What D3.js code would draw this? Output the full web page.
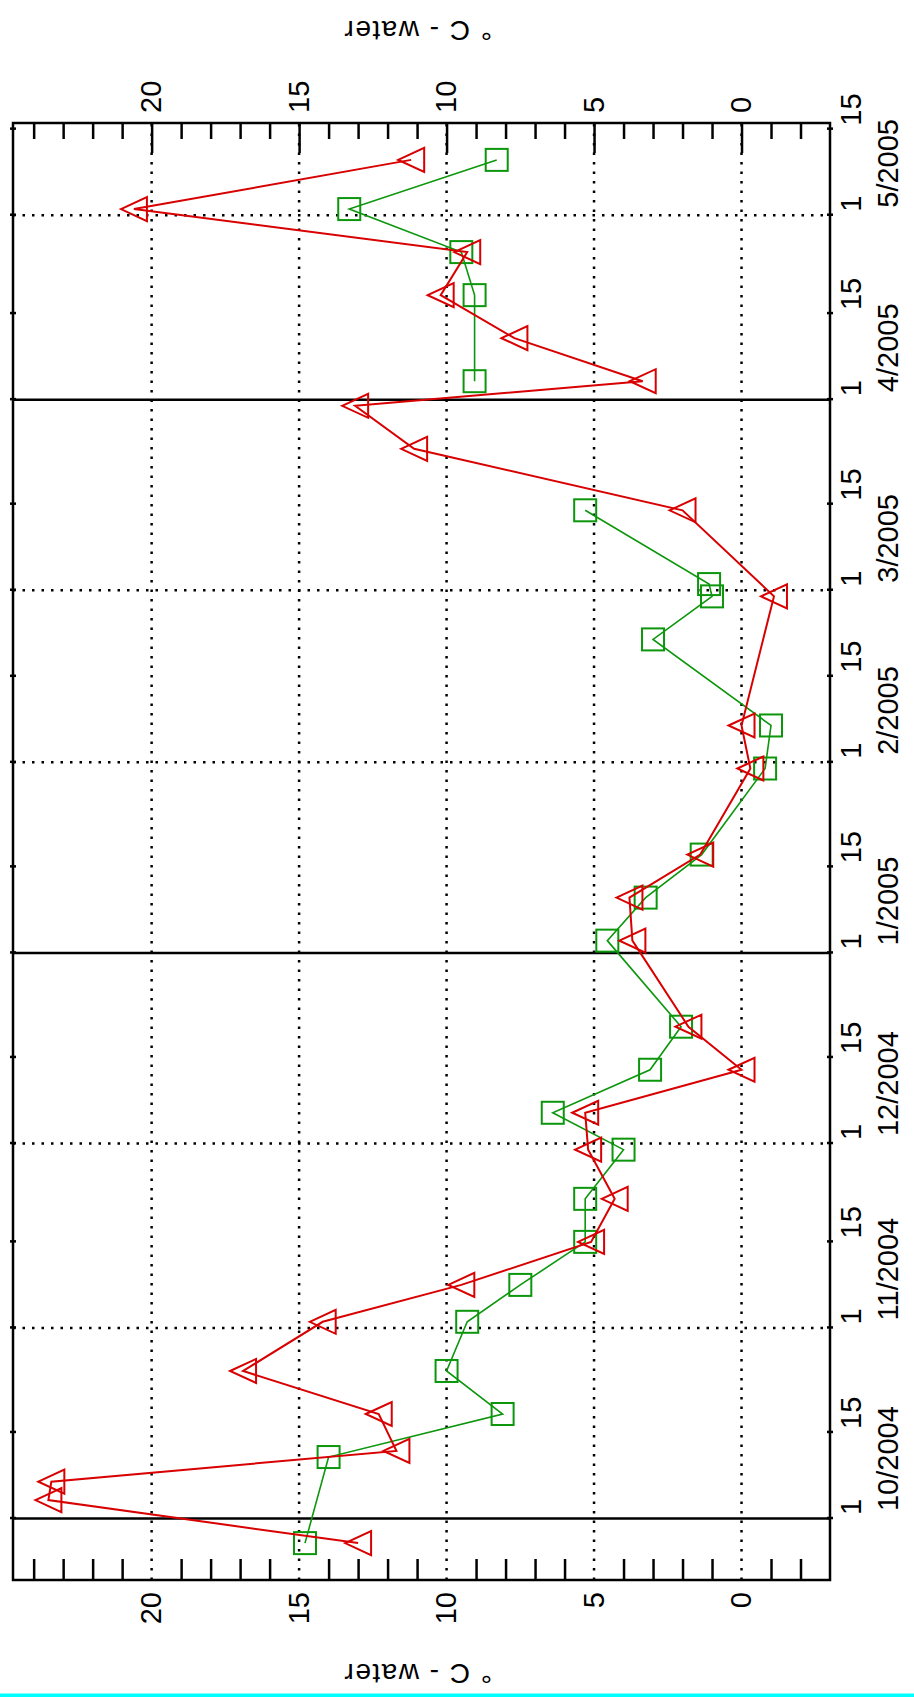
<!DOCTYPE html>
<html>
<head>
<meta charset="utf-8">
<script src="https://cdn.jsdelivr.net/npm/d3@7"></script>
<style>
body { margin: 0; background: #fff; }
svg { display: block; }
</style>
</head>
<body>
<div id="chart"></div>
<script>
// red triangles
var triangleDates = ["2004-09-27", "2004-10-04", "2004-10-07", "2004-10-12", "2004-10-18", "2004-10-25",
    "2004-11-02", "2004-11-08", "2004-11-15", "2004-11-22", "2004-11-30", "2004-12-06", "2004-12-13",
    "2004-12-20", "2005-01-03", "2005-01-10", "2005-01-17", "2005-01-31", "2005-02-07", "2005-02-28",
    "2005-03-14", "2005-03-24", "2005-03-31", "2005-04-04", "2005-04-11", "2005-04-18", "2005-04-25",
    "2005-05-02", "2005-05-10"];
var triangleTemps = [13.0, 23.5, 23.4, 11.7, 12.3, 16.9, 14.2, 9.5, 5.1, 4.3, 5.2, 5.3, 0.0, 1.8, 3.7,
    3.8, 1.4, -0.3, 0.0, -1.1, 2.0, 11.1, 13.1, 3.35, 7.7, 10.2, 9.3, 20.6, 11.2];

// green squares (null = no reading, the line breaks there)
var squareDates = ["2004-09-27", "2004-10-11", "2004-10-18", "2004-10-25", "2004-11-02", "2004-11-08",
    "2004-11-15", "2004-11-22", "2004-11-30", "2004-12-06", "2004-12-13", "2004-12-20", "2005-01-03",
    "2005-01-10", "2005-01-17", "2005-01-31", "2005-02-07", "2005-02-21", "2005-02-28", "2005-03-02",
    "2005-03-14", "2005-03-24", "2005-04-04", "2005-04-18", "2005-04-25", "2005-05-02", "2005-05-10"];
var squareTemps = [14.8, 14.0, 8.1, 10.0, 9.3, 7.5, 5.3, 5.3, 4.0, 6.4, 3.1, 2.05, 4.55, 3.25, 1.35,
    -0.8, -1.0, 3.0, 1.0, 1.1, 5.3, null, 9.05, 9.05, 9.5, 13.3, 8.3];

var tempTicks = [0, 5, 10, 15, 20];
var monthLabels = ["10/2004", "11/2004", "12/2004", "1/2005", "2/2005", "3/2005", "4/2005", "5/2005"];
var solidMonths = ["10/2004", "1/2005", "4/2005"];
var dayTicks = [1, 15];
var axisTitle = "\u00b0 C - water";

var W = 914, H = 1697;
var font = "'Liberation Sans', Arial, sans-serif";
var red = "#d80000", green = "#0c960c";

var parse = d3.utcParse("%Y-%m-%d"),
    parseMonth = d3.utcParse("%m/%Y");

var svg = d3.select("#chart").append("svg")
    .attr("width", W)
    .attr("height", H);

svg.append("rect").attr("width", W).attr("height", H).attr("fill", "#fff");

// the plot is a normal time chart turned a quarter turn counter-clockwise
var g = svg.append("g")
    .attr("transform", "translate(0," + H + ") rotate(-90)");

var x = d3.scaleUtc()
    .domain([parse("2004-09-21"), parse("2005-05-16")])
    .range([117, 1574]);
var y = d3.scaleLinear()
    .domain([-3, 24.7])
    .range([830, 13]);

var x0 = x.range()[0], x1 = x.range()[1],
    yTop = y.range()[1], yBot = y.range()[0];

var monthDates = monthLabels.map(function(m) { return parseMonth(m); });
var dayDates = [];
monthDates.forEach(function(m) {
    dayTicks.forEach(function(d) { dayDates.push(d3.utcDay.offset(m, d - 1)); });
});

// grid
g.append("g")
    .selectAll("line")
    .data(tempTicks)
    .enter().append("line")
    .attr("x1", x0).attr("x2", x1)
    .attr("y1", function(d) { return y(d); })
    .attr("y2", function(d) { return y(d); })
    .attr("stroke", "#000")
    .attr("stroke-width", 2.5)
    .attr("stroke-dasharray", "2.5 7");

g.append("g")
    .selectAll("line")
    .data(monthLabels)
    .enter().append("line")
    .attr("x1", function(d) { return x(parseMonth(d)); })
    .attr("x2", function(d) { return x(parseMonth(d)); })
    .attr("y1", yTop).attr("y2", yBot)
    .attr("stroke", "#000")
    .attr("stroke-width", 2.5)
    .attr("stroke-dasharray", function(d) { return solidMonths.indexOf(d) >= 0 ? null : "2.5 7"; });

// frame
g.append("rect")
    .attr("x", x0).attr("y", yTop)
    .attr("width", x1 - x0).attr("height", yBot - yTop)
    .attr("fill", "none")
    .attr("stroke", "#000")
    .attr("stroke-width", 2.5);

function styleAxis(sel) {
    sel.attr("font-size", 29).attr("font-family", font);
    sel.select(".domain").remove();
    sel.selectAll("line").attr("stroke-width", 2.5);
}

var minor = d3.range(-2, 25).filter(function(v) { return v % 5 !== 0; });

// small ticks (left side of the turned chart = screen bottom)
g.append("g")
    .attr("transform", "translate(" + x0 + ",0)")
    .call(d3.axisLeft(y).tickValues(minor).tickSize(-21).tickFormat(""))
    .call(styleAxis);

// screen top: short and long ticks
g.append("g")
    .attr("transform", "translate(" + x1 + ",0)")
    .call(d3.axisRight(y).tickValues(minor).tickSize(-16).tickFormat(""))
    .call(styleAxis);
g.append("g")
    .attr("transform", "translate(" + x1 + ",0)")
    .call(d3.axisRight(y).tickValues(tempTicks).tickSize(-30).tickFormat(""))
    .call(styleAxis);

// temperature labels
g.append("g")
    .attr("transform", "translate(" + x0 + ",0)")
    .call(d3.axisLeft(y).tickValues(tempTicks).tickSize(0).tickPadding(12))
    .call(styleAxis);
g.append("g")
    .attr("transform", "translate(" + x1 + ",0)")
    .call(d3.axisRight(y).tickValues(tempTicks).tickSize(0).tickPadding(10))
    .call(styleAxis);

// date ticks crossing both frame edges
[yBot - 3, yTop - 3].forEach(function(p) {
    g.append("g")
        .attr("transform", "translate(0," + p + ")")
        .call(d3.axisBottom(x).tickValues(dayDates).tickSize(6).tickFormat(""))
        .call(styleAxis);
});

// day numbers and month/year labels
g.append("g")
    .attr("transform", "translate(0," + yBot + ")")
    .call(d3.axisBottom(x).tickValues(dayDates).tickSize(0)
        .tickFormat(function(d) { return d.getUTCDate(); }))
    .call(styleAxis)
    .selectAll("text")
    .attr("y", 31).attr("dy", null).attr("x", 3)
    .attr("text-anchor", "start");

g.append("g")
    .attr("transform", "translate(0," + yBot + ")")
    .call(d3.axisBottom(x).tickValues(monthDates).tickSize(0)
        .tickFormat(function(d, i) { return monthLabels[i]; }))
    .call(styleAxis)
    .selectAll("text")
    .attr("y", 68).attr("dy", null).attr("x", 7)
    .attr("text-anchor", "start");

// axis titles (both sides)
[33, 1676].forEach(function(px) {
    g.append("text")
        .attr("transform", "translate(" + px + "," + ((yTop + yBot) / 2 - 4) + ") rotate(-90)")
        .attr("text-anchor", "middle")
        .attr("font-family", font)
        .attr("font-size", 28)
        .attr("letter-spacing", 1.5)
        .text(axisTitle);
});

// series
var tri = triangleDates.map(function(d, i) { return { date: parse(d), temp: triangleTemps[i] }; });
var sq = squareDates.map(function(d, i) { return { date: parse(d), temp: squareTemps[i] }; });
var sqPts = sq.filter(function(d) { return d.temp != null; });

var line = d3.line()
    .defined(function(d) { return d.temp != null; })
    .x(function(d) { return x(d.date); })
    .y(function(d) { return y(d.temp); });

g.append("path")
    .datum(sq)
    .attr("d", line)
    .attr("fill", "none")
    .attr("stroke", green)
    .attr("stroke-width", 1.6);

g.append("g")
    .selectAll("rect")
    .data(sqPts)
    .enter().append("rect")
    .attr("x", function(d) { return x(d.date) - 11; })
    .attr("y", function(d) { return y(d.temp) - 11; })
    .attr("width", 22).attr("height", 22)
    .attr("fill", "none")
    .attr("stroke", green)
    .attr("stroke-width", 2);

g.append("path")
    .datum(tri)
    .attr("d", line)
    .attr("fill", "none")
    .attr("stroke", red)
    .attr("stroke-width", 2);

g.append("g")
    .selectAll("path")
    .data(tri)
    .enter().append("path")
    .attr("transform", function(d) { return "translate(" + x(d.date) + "," + y(d.temp) + ")"; })
    .attr("d", "M0,-13L12,13L-12,13Z")
    .attr("fill", "none")
    .attr("stroke", red)
    .attr("stroke-width", 2);

// cyan strip along the bottom edge
svg.append("rect")
    .attr("x", 0).attr("y", H - 3.5)
    .attr("width", W).attr("height", 3.5)
    .attr("fill", "#00ffff");
</script>
</body>
</html>
